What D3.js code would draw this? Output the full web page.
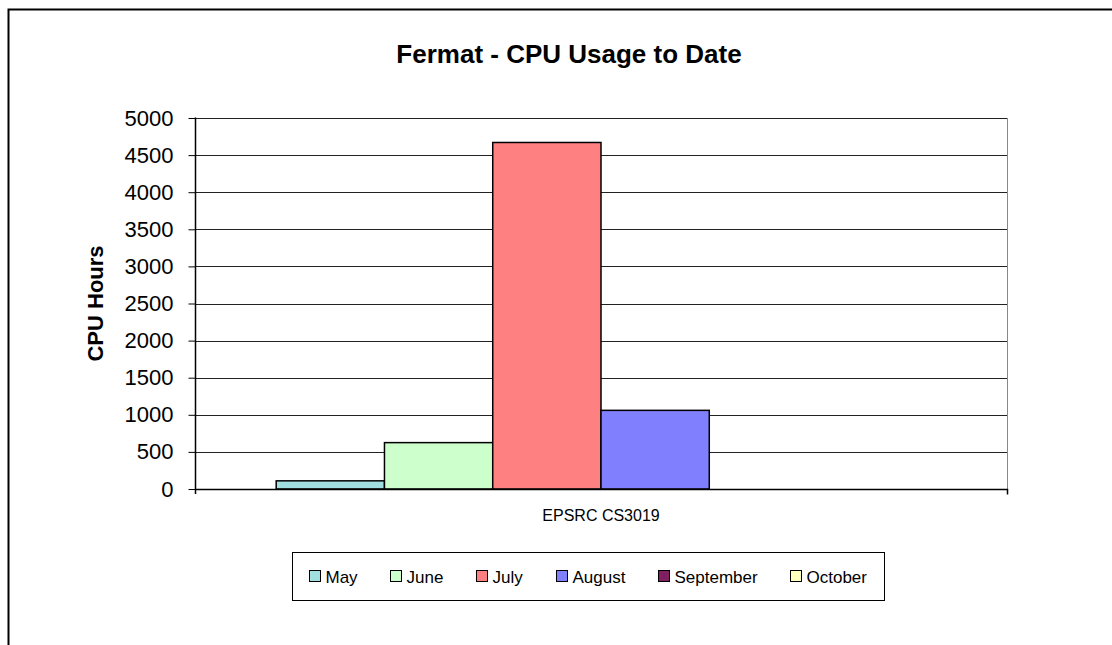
<!DOCTYPE html>
<html>
<head>
<meta charset="utf-8">
<script src="https://cdn.jsdelivr.net/npm/d3@7"></script>
<style>
  body { margin: 0; background: #fff; }
  svg { display: block; font-family: "Liberation Sans", Arial, sans-serif; }
</style>
</head>
<body>
<svg id="chart" width="1112" height="645"></svg>
<script>
const CATEGORIES = ["EPSRC CS3019"];
const MONTHS = ["May", "June", "July", "August", "September", "October"];
const HOURS = [110, 625, 4670, 1060, 0, 0];
const COLORS = ["#a0e0e0", "#ccffcc", "#ff8080", "#8080ff", "#802060", "#ffffc0"];
const Y_TICKS = [0, 500, 1000, 1500, 2000, 2500, 3000, 3500, 4000, 4500, 5000];

const PLOT = { left: 195, right: 1007, top: 118, bottom: 489 };
const GAP = 1.5; // gap width, in bar widths

const svg = d3.select("#chart");

// Outer frame (right and bottom edges run off the page)
svg.append("path")
  .attr("d", "M8.5,700 V9.5 H1200")
  .attr("fill", "none")
  .attr("stroke", "#000")
  .attr("stroke-width", 2);

const y = d3.scaleLinear().domain([0, 5000]).range([PLOT.bottom, PLOT.top]);
const x = d3.scaleBand().domain(CATEGORIES).range([PLOT.left, PLOT.right]);

const barW = x.bandwidth() / (MONTHS.length + GAP);
const xs = d3.scaleBand()
  .domain(MONTHS)
  .range([barW * GAP / 2, x.bandwidth() - barW * GAP / 2]);

// Gridlines
svg.append("g")
  .selectAll("line")
  .data(Y_TICKS.filter((d) => d > 0))
  .join("line")
  .attr("x1", PLOT.left)
  .attr("x2", PLOT.right)
  .attr("y1", (d) => Math.round(y(d)) + 0.5)
  .attr("y2", (d) => Math.round(y(d)) + 0.5)
  .attr("stroke", "#222")
  .attr("stroke-width", 1);

// Right border of the plot area
svg.append("line")
  .attr("x1", PLOT.right + 0.5).attr("x2", PLOT.right + 0.5)
  .attr("y1", PLOT.top).attr("y2", PLOT.bottom)
  .attr("stroke", "#888");

// Bars
svg.append("g")
  .selectAll("rect")
  .data(MONTHS.map((m, i) => ({ month: m, value: HOURS[i], color: COLORS[i] })))
  .join("rect")
  .attr("x", (d) => x(CATEGORIES[0]) + xs(d.month))
  .attr("width", xs.bandwidth())
  .attr("y", (d) => y(d.value))
  .attr("height", (d) => y(0) - y(d.value))
  .attr("fill", (d) => d.color)
  .attr("stroke", (d) => d.value > 0 ? "#000" : "none")
  .attr("stroke-width", 1.5);

// Y axis
const yAxis = svg.append("g")
  .attr("transform", `translate(${PLOT.left + 0.5},0)`)
  .call(d3.axisLeft(y).tickValues(Y_TICKS).tickSize(7).tickPadding(15).tickFormat(d3.format("d")));
yAxis.select(".domain").attr("d", `M0,${PLOT.top - 0.5}V${PLOT.bottom + 5}`).attr("stroke-width", 1.5);
yAxis.selectAll(".tick line").attr("stroke", "#000");
yAxis.selectAll("text")
  .attr("font-size", 22)
  .attr("font-family", "Liberation Sans, Arial, sans-serif")
  .attr("fill", "#000");

// X axis
const xAxis = svg.append("g")
  .attr("transform", `translate(0,${PLOT.bottom + 0.5})`)
  .call(d3.axisBottom(x).tickSize(0).tickPadding(20));
xAxis.select(".domain").attr("d", `M${PLOT.left},0H${PLOT.right + 0.5}V5`).attr("stroke-width", 1.5);
xAxis.selectAll("text")
  .attr("font-size", 16)
  .attr("font-family", "Liberation Sans, Arial, sans-serif")
  .attr("fill", "#000");

// Title
svg.append("text")
  .attr("x", 569)
  .attr("y", 63)
  .attr("text-anchor", "middle")
  .attr("font-size", 26)
  .attr("font-weight", "bold")
  .text("Fermat - CPU Usage to Date");

// Y axis title
svg.append("text")
  .attr("transform", `translate(103,${(PLOT.top + PLOT.bottom) / 2}) rotate(-90)`)
  .attr("text-anchor", "middle")
  .attr("font-size", 22)
  .attr("font-weight", "bold")
  .text("CPU Hours");

// Legend
const LEGEND = { left: 292, right: 884, top: 552, bottom: 600 };
const legend = svg.append("g");
legend.append("rect")
  .attr("x", LEGEND.left + 0.5)
  .attr("y", LEGEND.top + 0.5)
  .attr("width", LEGEND.right - LEGEND.left)
  .attr("height", LEGEND.bottom - LEGEND.top)
  .attr("fill", "#fff")
  .attr("stroke", "#000");

const items = legend.selectAll("g.item")
  .data(MONTHS.map((m, i) => ({ month: m, color: COLORS[i] })))
  .join("g")
  .attr("class", "item");
items.append("rect")
  .attr("width", 11).attr("height", 11)
  .attr("y", -6)
  .attr("fill", (d) => d.color)
  .attr("stroke", "#000");
items.append("text")
  .attr("x", 16)
  .attr("y", 6)
  .attr("font-size", 17)
  .text((d) => d.month);

const widths = items.nodes().map((n) => n.getBBox().width);
const total = d3.sum(widths);
const pad = 17;
const gap = (LEGEND.right - LEGEND.left - 2 * pad - total) / (MONTHS.length - 1);
let cx = LEGEND.left + pad;
items.attr("transform", (d, i) => {
  const t = `translate(${Math.round(cx) + 0.5},${(LEGEND.top + LEGEND.bottom) / 2 + 0.5})`;
  cx += widths[i] + gap;
  return t;
});
</script>
</body>
</html>
